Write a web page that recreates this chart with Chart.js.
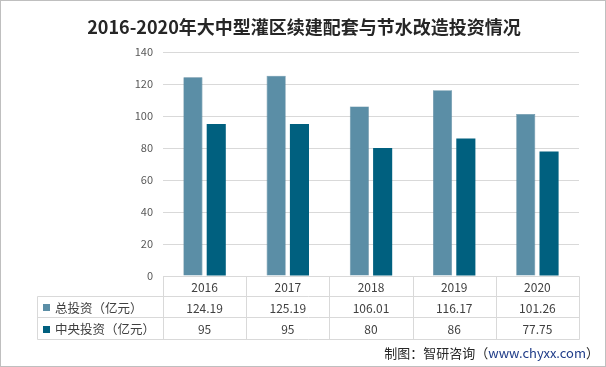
<!DOCTYPE html>
<html>
<head>
<meta charset="utf-8">
<script src="https://cdn.jsdelivr.net/npm/chart.js@4/dist/chart.umd.min.js"></script>
<style>
html,body{margin:0;padding:0;background:#fff;}
#wrap{position:relative;width:606px;height:367px;}
</style>
</head>
<body>
<div id="wrap"><canvas id="c" width="606" height="367"></canvas></div>
<script>
const title = '2016-2020年大中型灌区续建配套与节水改造投资情况';
const source = '制图：智研咨询（www.chyxx.com）';
const categories = ['2016', '2017', '2018', '2019', '2020'];
const seriesNames = ['总投资（亿元）', '中央投资（亿元）'];
const totalInvest = [124.19, 125.19, 106.01, 116.17, 101.26];
const centralInvest = [95, 95, 80, 86, 77.75];
const totalLabels = ['124.19', '125.19', '106.01', '116.17', '101.26'];
const centralLabels = ['95', '95', '80', '86', '77.75'];
const yTicks = [0, 20, 40, 60, 80, 100, 120, 140];

const colors = ['#5b8ea6', '#00607f'];
const CJK = '"Noto Sans CJK SC", "Microsoft YaHei", sans-serif';

const L = {tableLeft: 37, plotLeft: 163, plotRight: 579, plotTop: 52, plotBottom: 276, row1: 296, row2: 317, row3: 339};

const tablePlugin = {
  id: 'tablePlugin',
  beforeDraw(chart) {
    const ctx = chart.ctx;
    ctx.save();
    ctx.fillStyle = '#ffffff';
    ctx.fillRect(0, 0, chart.width, chart.height);
    ctx.restore();
  },
  afterDraw(chart) {
    const ctx = chart.ctx;
    const xs = chart.scales.x;
    const ca = chart.chartArea;
    ctx.save();
    // border
    ctx.strokeStyle = '#bfbfbf';
    ctx.lineWidth = 1;
    ctx.strokeRect(0.5, 0.5, chart.width - 1, chart.height - 1);
    // title
    ctx.fillStyle = '#262626';
    ctx.font = 'bold 18px ' + CJK;
    ctx.textAlign = 'center';
    ctx.textBaseline = 'middle';
    ctx.fillText(title, 304, 27);
    // table lines
    ctx.strokeStyle = '#d9d9d9';
    ctx.lineWidth = 1;
    const n = categories.length;
    const w = (ca.right - ca.left) / n;
    const bounds = [];
    for (let i = 0; i <= n; i++) bounds.push(Math.round(ca.left + i * w) + 0.5);
    const top = Math.round(ca.bottom) + 0.5;
    const r1 = L.row1 + 0.5, r2 = L.row2 + 0.5, r3 = L.row3 + 0.5;
    const tl = L.tableLeft + 0.5;
    ctx.beginPath();
    ctx.moveTo(bounds[0], top); ctx.lineTo(bounds[n], top);
    [r1, r2, r3].forEach(y => { ctx.moveTo(tl, y); ctx.lineTo(bounds[n], y); });
    ctx.moveTo(tl, r1); ctx.lineTo(tl, r3);
    bounds.forEach(x => { ctx.moveTo(x, top); ctx.lineTo(x, r3); });
    ctx.stroke();
    // rows
    const rows = [totalLabels, centralLabels];
    const rowMid = [(r1 + r2) / 2, (r2 + r3) / 2];
    ctx.textBaseline = 'middle';
    rows.forEach((vals, ri) => {
      ctx.fillStyle = colors[ri];
      ctx.fillRect(43, Math.round(rowMid[ri]) - 3, 7, 7);
      ctx.fillStyle = '#404040';
      ctx.textAlign = 'left';
      ctx.font = '12.5px ' + CJK;
      ctx.fillText(seriesNames[ri], 55, rowMid[ri] + 1);
      ctx.textAlign = 'center';
      ctx.font = '12px ' + CJK;
      vals.forEach((v, i) => {
        ctx.fillText(v, xs.getPixelForValue(i), rowMid[ri] + 1);
      });
    });
    // source
    ctx.textAlign = 'right';
    ctx.font = '13px ' + CJK;
    const urlPart = 'www.chyxx.com';
    const close = '）';
    const pre = '制图：智研咨询（';
    let x = 599;
    ctx.fillStyle = '#262626';
    ctx.fillText(close, x, 353);
    x -= ctx.measureText(close).width;
    ctx.fillStyle = '#1f3c88';
    ctx.fillText(urlPart, x, 353);
    x -= ctx.measureText(urlPart).width;
    ctx.fillStyle = '#262626';
    ctx.fillText(pre, x, 353);
    ctx.restore();
  }
};

new Chart(document.getElementById('c'), {
  type: 'bar',
  data: {
    labels: categories,
    datasets: [
      {label: seriesNames[0], data: totalInvest, backgroundColor: colors[0], borderColor: '#4e7f97', borderWidth: 0.6, categoryPercentage: 0.56, barPercentage: 0.82},
      {label: seriesNames[1], data: centralInvest, backgroundColor: colors[1], categoryPercentage: 0.56, barPercentage: 0.82}
    ]
  },
  options: {
    responsive: false,
    animation: false,
    devicePixelRatio: 1,
    layout: {padding: {left: 0, right: 606 - L.plotRight, top: L.plotTop, bottom: 0}},
    plugins: {legend: {display: false}, title: {display: false}, tooltip: {enabled: false}},
    scales: {
      x: {
        grid: {display: false, drawTicks: false},
        border: {display: false},
        ticks: {color: '#404040', font: {size: 12, family: CJK}, padding: 4, maxRotation: 0},
        afterFit(s) { s.height = 367 - L.plotBottom; }
      },
      y: {
        min: 0, max: 140,
        afterBuildTicks(s) { s.ticks = yTicks.map(v => ({value: v})); },
        grid: {color: '#d9d9d9', drawTicks: false, lineWidth: 1},
        border: {display: false},
        ticks: {color: '#595959', font: {size: 11, family: CJK}, padding: 10},
        afterFit(s) { s.width = L.plotLeft; }
      }
    }
  },
  plugins: [tablePlugin]
});
</script>
</body>
</html>
